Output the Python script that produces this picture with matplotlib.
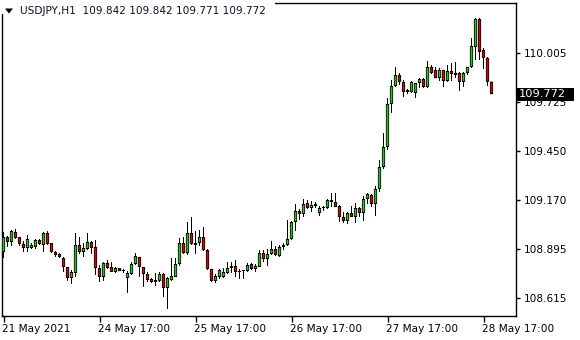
import matplotlib
matplotlib.use("Agg")
import matplotlib.pyplot as plt
from matplotlib.patches import Rectangle, Polygon
import matplotlib.transforms as mtransforms

plt.rcParams['font.family'] = ['DejaVu Sans']

# ---- data (USDJPY H1) ----
opens = [108.876, 108.961, 108.933, 108.990, 108.961, 108.922, 108.899, 108.899, 108.905, 108.944,
         108.916, 108.984, 108.927, 108.876, 108.865, 108.842, 108.791, 108.729, 108.757, 108.916,
         108.876, 108.893, 108.933, 108.905, 108.785, 108.734, 108.814, 108.791, 108.763, 108.785,
         108.774, 108.729, 108.751, 108.808, 108.848, 108.791, 108.751, 108.723, 108.717, 108.712,
         108.751, 108.672, 108.717, 108.734, 108.808, 108.927, 108.870, 108.984, 108.916, 108.927,
         108.961, 108.887, 108.780, 108.712, 108.734, 108.734, 108.757, 108.785, 108.797, 108.768,
         108.768, 108.768, 108.808, 108.780, 108.791, 108.870, 108.836, 108.865, 108.893, 108.853,
         108.905, 108.916, 108.950, 109.046, 109.109, 109.092, 109.154, 109.126, 109.137, 109.097,
         109.126, 109.126, 109.171, 109.160, 109.137, 109.075, 109.052, 109.097, 109.075, 109.126,
         109.097, 109.177, 109.200, 109.148, 109.234, 109.358, 109.472, 109.716, 109.818, 109.880,
         109.841, 109.784, 109.784, 109.778, 109.835, 109.857, 109.812, 109.926, 109.909, 109.863,
         109.909, 109.846, 109.903, 109.880, 109.892, 109.841, 109.892, 109.926, 110.039, 110.198,
         110.022, 109.977, 109.842]
highs = [108.990, 108.967, 109.001, 109.007, 108.961, 108.939, 108.973, 108.927, 108.950, 108.950,
         108.990, 108.995, 108.927, 108.882, 108.870, 108.848, 108.791, 108.774, 108.984, 108.961,
         108.927, 108.984, 108.939, 108.944, 108.802, 108.819, 108.831, 108.819, 108.791, 108.785,
         108.780, 108.768, 108.819, 108.870, 108.848, 108.791, 108.763, 108.729, 108.757, 108.763,
         108.757, 108.734, 108.842, 108.842, 108.956, 108.961, 109.046, 109.075, 108.995, 109.001,
         109.018, 108.893, 108.780, 108.751, 108.780, 108.785, 108.819, 108.819, 108.831, 108.780,
         108.768, 108.814, 108.814, 108.808, 108.887, 108.887, 108.893, 108.939, 108.910, 108.916,
         108.927, 109.058, 109.052, 109.148, 109.120, 109.177, 109.171, 109.165, 109.160, 109.137,
         109.137, 109.177, 109.211, 109.211, 109.143, 109.103, 109.103, 109.137, 109.154, 109.131,
         109.194, 109.211, 109.205, 109.251, 109.398, 109.551, 109.750, 109.852, 109.926, 109.892,
         109.852, 109.801, 109.846, 109.835, 109.863, 109.863, 109.960, 109.937, 109.926, 109.920,
         109.909, 109.937, 109.948, 109.954, 109.897, 109.897, 109.926, 110.090, 110.204, 110.204,
         110.033, 109.982, 109.842]
lows = [108.842, 108.905, 108.910, 108.950, 108.910, 108.876, 108.876, 108.893, 108.893, 108.916,
        108.876, 108.916, 108.870, 108.848, 108.842, 108.763, 108.712, 108.695, 108.734, 108.865,
        108.848, 108.887, 108.865, 108.746, 108.706, 108.712, 108.780, 108.763, 108.757, 108.768,
        108.757, 108.644, 108.746, 108.802, 108.734, 108.678, 108.706, 108.700, 108.683, 108.706,
        108.621, 108.553, 108.712, 108.734, 108.797, 108.865, 108.859, 108.916, 108.865, 108.910,
        108.882, 108.774, 108.706, 108.700, 108.723, 108.729, 108.751, 108.757, 108.734, 108.723,
        108.723, 108.763, 108.774, 108.763, 108.791, 108.819, 108.797, 108.859, 108.853, 108.848,
        108.887, 108.910, 108.944, 108.995, 109.058, 109.075, 109.120, 109.103, 109.126, 109.080,
        109.109, 109.120, 109.131, 109.131, 109.046, 109.041, 109.035, 109.075, 109.041, 109.075,
        109.052, 109.148, 109.131, 109.080, 109.217, 109.347, 109.455, 109.665, 109.812, 109.823,
        109.755, 109.772, 109.778, 109.750, 109.807, 109.807, 109.807, 109.886, 109.863, 109.846,
        109.812, 109.841, 109.846, 109.863, 109.790, 109.812, 109.880, 109.920, 109.965, 109.965,
        109.914, 109.818, 109.771]
closes = [108.961, 108.933, 108.995, 108.956, 108.922, 108.899, 108.950, 108.916, 108.944, 108.922,
          108.984, 108.922, 108.876, 108.859, 108.848, 108.791, 108.729, 108.763, 108.916, 108.876,
          108.899, 108.933, 108.899, 108.785, 108.734, 108.814, 108.785, 108.763, 108.785, 108.768,
          108.768, 108.757, 108.808, 108.853, 108.791, 108.751, 108.717, 108.706, 108.706, 108.751,
          108.672, 108.729, 108.740, 108.808, 108.927, 108.870, 108.984, 108.922, 108.927, 108.961,
          108.887, 108.780, 108.712, 108.740, 108.774, 108.763, 108.785, 108.797, 108.763, 108.763,
          108.768, 108.802, 108.780, 108.797, 108.870, 108.836, 108.865, 108.893, 108.859, 108.905,
          108.916, 108.950, 109.046, 109.109, 109.092, 109.148, 109.126, 109.143, 109.148, 109.126,
          109.128, 109.171, 109.160, 109.131, 109.075, 109.052, 109.097, 109.075, 109.126, 109.097,
          109.177, 109.205, 109.148, 109.234, 109.358, 109.472, 109.716, 109.818, 109.880, 109.841,
          109.784, 109.795, 109.841, 109.835, 109.857, 109.812, 109.926, 109.892, 109.863, 109.909,
          109.846, 109.903, 109.886, 109.892, 109.841, 109.892, 109.926, 110.045, 110.198, 110.011,
          109.977, 109.841, 109.772]

ytick_values = [110.005, 109.725, 109.450, 109.170, 108.895, 108.615]
xtick_bars = [0, 24, 48, 72, 96, 120]
xtick_labels = ["21 May 2021", "24 May 17:00", "25 May 17:00",
                "26 May 17:00", "27 May 17:00", "28 May 17:00"]
symbol = "USDJPY,H1"
last_price = 109.772

# ---- figure ----
W, H = 580, 340
fig = plt.figure(figsize=(W / 100, H / 100), dpi=100)
fig.patch.set_facecolor("white")
L, R, T, B = 2, 516, 3, 316
ax = fig.add_axes([L / W, 1 - B / H, (R - L) / W, (B - T) / H])

YMIN, YMAX = 108.513, 110.2887
py = (YMAX - YMIN) / (B - T)        # price per pixel
n = len(opens)
xs = list(range(n))
green = "#1ec81e"
red = "#e00000"
lw1 = 72.0 / 100.0                   # one pixel in points

# wicks (1px, centred on the candle's pixel column)
wl = ax.vlines(xs, lows, highs, color="black", linewidth=lw1, zorder=2)
wl.set_snap(False)
# bodies: black block
body_lo = [min(o, c) for o, c in zip(opens, closes)]
body_hi = [max(o, c) for o, c in zip(opens, closes)]
frame = ax.bar(xs, [max(h - l, py) for l, h in zip(body_lo, body_hi)], bottom=body_lo,
               width=0.8, color="black", linewidth=0, zorder=3)
for p in frame:
    p.set_snap(False)
# coloured core inside each body
core_x, core_lo, core_h, core_c = [], [], [], []
for i in xs:
    if body_hi[i] - body_lo[i] > 2 * py:
        core_x.append(i)
        core_lo.append(body_lo[i] + py)
        core_h.append(body_hi[i] - body_lo[i] - 2 * py)
        core_c.append(green if closes[i] >= opens[i] else red)
core = ax.bar(core_x, core_h, bottom=core_lo, width=0.42, color=core_c, linewidth=0, zorder=4)
for p in core:
    p.set_snap(False)

# candle i centred on pixel column 3 + 4*i
ax.set_xlim(-0.375, -0.375 + (R - L) / 4.0)
ax.set_ylim(YMIN, YMAX)

for s in ax.spines.values():
    s.set_linewidth(1.0)
    s.set_color("black")

ax.yaxis.tick_right()
ax.set_yticks(ytick_values)
ax.set_yticklabels([f"{v:.3f}" for v in ytick_values])
ax.tick_params(axis="y", direction="out", length=3, width=1, pad=3,
               labelsize=7.6, colors="black")
ax.set_xticks(xtick_bars)
ax.set_xticklabels(xtick_labels, ha="left")
ax.tick_params(axis="x", direction="out", length=4, width=1, pad=2,
               labelsize=7.6, colors="black")
offset = mtransforms.ScaledTranslation(-1 / 100, 0, fig.dpi_scale_trans)
for lab in ax.get_xticklabels():
    lab.set_transform(lab.get_transform() + offset)

# current price box
trans = mtransforms.blended_transform_factory(ax.transAxes, ax.transData)
px = 1.0 / (R - L)
ax.add_patch(Rectangle((1.0 + 1 * px, last_price - 6.5 * py), 57 * px, 13 * py,
                       transform=trans, facecolor="black", edgecolor="none",
                       clip_on=False, zorder=20))
ax.text(1.0 + 3 * px, last_price, f"{last_price:.3f}", transform=trans,
        color="white", fontsize=8.2, va="center", ha="left", zorder=21, clip_on=False)

# header (covers the top-left of the frame like the platform does)
fig.patches.append(Rectangle((0, 1 - 14 / H), 275 / W, 14 / H, transform=fig.transFigure,
                             facecolor="white", edgecolor="none", zorder=5))
fig.patches.append(Polygon([(5 / W, 1 - 8.5 / H), (13 / W, 1 - 8.5 / H), (9 / W, 1 - 13.5 / H)],
                           closed=True, transform=fig.transFigure, facecolor="black",
                           edgecolor="none", zorder=6))
header = f"{symbol}  {opens[-1]:.3f} {highs[-1]:.3f} {lows[-1]:.3f} {closes[-1]:.3f}"
fig.text(20 / W, 1 - 11.5 / H, header, fontsize=7.6, va="center", ha="left",
         color="#10102a", zorder=7)

fig.savefig("out.png", dpi=100, facecolor="white")
